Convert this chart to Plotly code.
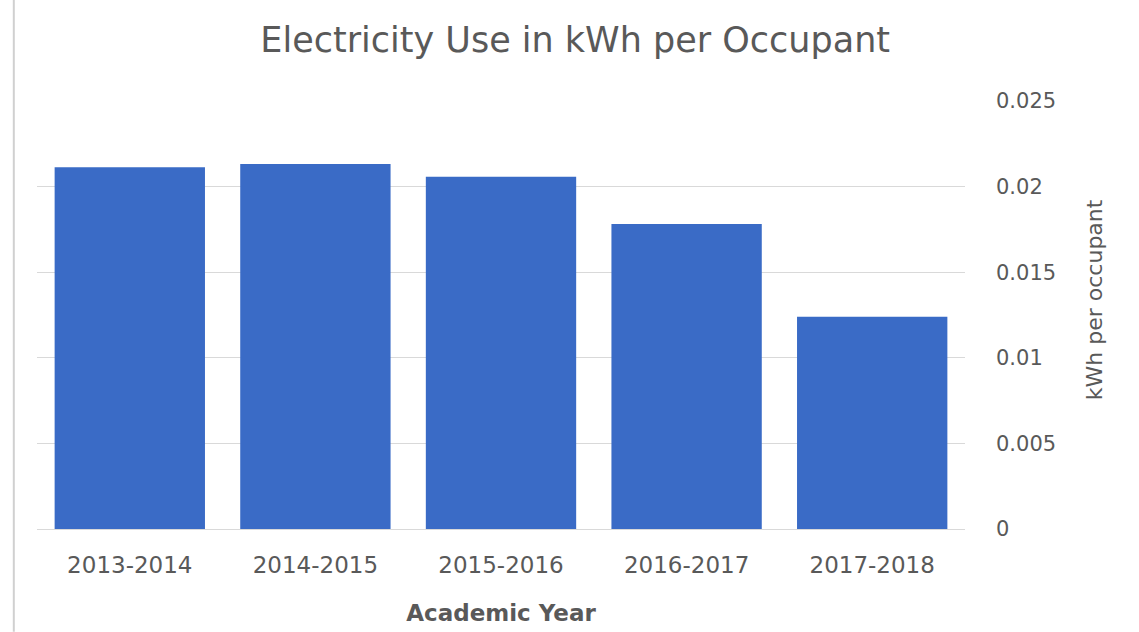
import plotly.graph_objects as go

years = ["2013-2014", "2014-2015", "2015-2016", "2016-2017", "2017-2018"]
kwh_per_occupant = [0.02113, 0.02132, 0.02058, 0.01782, 0.0124]
y_ticks = [0, 0.005, 0.01, 0.015, 0.02, 0.025]
y_tick_labels = ["0", "0.005", "0.01", "0.015", "0.02", "0.025"]

FONT = "'DejaVu Sans', Verdana, sans-serif"
GRAY = "#595959"

fig = go.Figure(go.Bar(x=years, y=kwh_per_occupant, marker_color="#3A6BC6",
                       marker_line_width=0))

fig.update_layout(
    width=1139, height=632,
    paper_bgcolor="white", plot_bgcolor="white",
    margin=dict(l=37, r=174, t=101, b=103),
    bargap=0.19,
    showlegend=False,
    title=dict(text="Electricity Use in kWh per Occupant", x=0.505, xanchor="center",
               y=0.937, yanchor="middle",
               font=dict(family=FONT, size=35, color=GRAY)),
    font=dict(family=FONT, color=GRAY),
)
fig.update_xaxes(
    tickfont=dict(size=23, color=GRAY), ticklabelstandoff=20,
    title=dict(text="<b>Academic Year</b>", font=dict(size=23, color=GRAY), standoff=27),
    showline=False, showgrid=False,
)
fig.update_yaxes(
    side="right", range=[0, 0.025], tickvals=y_ticks, ticktext=y_tick_labels,
    tickfont=dict(size=21, color=GRAY), ticklabelstandoff=30,
    showgrid=True, gridcolor="#D9D9D9", gridwidth=1,
    zeroline=True, zerolinecolor="#D9D9D9", zerolinewidth=1,
)
fig.add_annotation(text="kWh per occupant", xref="paper", yref="paper",
                   x=1.139, y=0.537, xanchor="center", yanchor="middle",
                   textangle=-90, showarrow=False,
                   font=dict(family=FONT, size=22, color=GRAY))
fig.add_shape(type="line", xref="paper", yref="paper", x0=-0.025, x1=-0.025, y0=-0.24, y1=1.25,
              line=dict(color="#D0D0D0", width=2))
fig.write_html("out.html")
